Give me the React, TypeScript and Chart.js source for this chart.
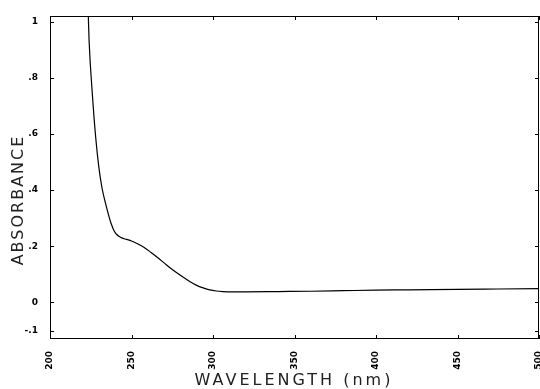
import React, { useEffect, useRef } from "react";
import { Chart, registerables } from "chart.js";

Chart.register(...registerables);

const wavelengths = [
  223.5, 224, 226, 228, 230, 232, 234, 236, 237, 238, 239, 240, 241, 242, 243, 244, 246, 248, 250, 254,
  258, 262, 266, 270, 274, 278, 282, 286, 290, 294, 298, 302, 306, 312, 320, 340, 360, 380, 400, 420,
  450, 475, 500,
];
const absorbance = [
  1.02, 0.93, 0.74, 0.59, 0.48, 0.405, 0.355, 0.31, 0.29, 0.273, 0.259, 0.249, 0.242, 0.237, 0.233,
  0.23, 0.226, 0.223, 0.219, 0.208, 0.195, 0.178, 0.16, 0.141, 0.122, 0.105, 0.089, 0.074, 0.061,
  0.052, 0.045, 0.041, 0.039, 0.038, 0.038, 0.039, 0.04, 0.042, 0.044, 0.045, 0.047, 0.048, 0.049,
];
const yTicks = [-0.1, 0, 0.2, 0.4, 0.6, 0.8, 1];
const yTickLabels = ["-.1", "0", ".2", ".4", ".6", ".8", "1"];
const xTicks = [200, 250, 300, 350, 400, 450, 500];
const xTitle = "WAVELENGTH (nm)";
const yTitle = "ABSORBANCE";

export default function App() {
  const ref = useRef<HTMLCanvasElement | null>(null);

  useEffect(() => {
    document.body.style.margin = "0";
    const canvas = ref.current;
    if (!canvas) return;

    const framePlugin = {
      id: "frame",
      afterDraw(chart: any) {
        const { ctx, chartArea } = chart;
        const xs = chart.scales.x;
        const ys = chart.scales.y;
        ctx.save();
        ctx.strokeStyle = "#000";
        ctx.lineWidth = 1;
        ctx.strokeRect(chartArea.left + 0.5, chartArea.top + 0.5, chartArea.right - chartArea.left - 1, chartArea.bottom - chartArea.top - 1);
        const len = 4;
        ctx.beginPath();
        xTicks.forEach((v) => {
          const px = Math.round(xs.getPixelForValue(v)) + 0.5;
          ctx.moveTo(px, chartArea.bottom);
          ctx.lineTo(px, chartArea.bottom - len);
          ctx.moveTo(px, chartArea.top);
          ctx.lineTo(px, chartArea.top + len);
        });
        yTicks.forEach((v) => {
          const py = Math.round(ys.getPixelForValue(v)) + 0.5;
          ctx.moveTo(chartArea.left, py);
          ctx.lineTo(chartArea.left + len, py);
          ctx.moveTo(chartArea.right, py);
          ctx.lineTo(chartArea.right - len, py);
        });
        ctx.stroke();

        ctx.fillStyle = "#222";
        ctx.font = '16px "DejaVu Sans"';
        (ctx as any).letterSpacing = "3px";
        ctx.textAlign = "center";
        ctx.textBaseline = "middle";
        ctx.fillText(xTitle, 294, 381);
        (ctx as any).letterSpacing = "2px";
        ctx.translate(19, 200);
        ctx.rotate(-Math.PI / 2);
        ctx.fillText(yTitle, 0, 0);
        ctx.restore();
      },
    };

    const chart = new Chart(canvas, {
      type: "scatter",
      data: {
        datasets: [
          {
            data: wavelengths.map((w, i) => ({ x: w, y: absorbance[i] })),
            showLine: true,
            borderColor: "#000",
            borderWidth: 1.2,
            pointRadius: 0,
            cubicInterpolationMode: "monotone",
            fill: false,
          },
        ],
      },
      options: {
        animation: false,
        responsive: false,
        maintainAspectRatio: false,
        layout: { padding: { top: 16, right: 1, left: 0, bottom: 0 } },
        plugins: { legend: { display: false }, tooltip: { enabled: false } },
        scales: {
          x: {
            type: "linear",
            min: 200,
            max: 500,
            afterBuildTicks: (scale: any) => {
              scale.ticks = xTicks.map((v) => ({ value: v }));
            },
            afterFit: (scale: any) => {
              scale.height = 50;
              scale.paddingLeft = 0;
              scale.paddingRight = 0;
            },
            grid: { display: false },
            border: { display: false },
            ticks: {
              color: "#000",
              font: { family: "DejaVu Sans", size: 9, weight: "bold" },
              minRotation: 90,
              maxRotation: 90,
              padding: 4,
              autoSkip: false,
              callback: (v: any) => String(v),
            },
          },
          y: {
            type: "linear",
            min: -0.13,
            max: 1.02,
            afterBuildTicks: (scale: any) => {
              scale.ticks = yTicks.map((v) => ({ value: v }));
            },
            afterFit: (scale: any) => {
              scale.width = 50;
              scale.paddingTop = 0;
              scale.paddingBottom = 0;
            },
            grid: { display: false },
            border: { display: false },
            ticks: {
              color: "#000",
              font: { family: "DejaVu Sans", size: 9, weight: "bold" },
              padding: 4,
              autoSkip: false,
              callback: (v: any) => {
                const i = yTicks.findIndex((t) => Math.abs(t - v) < 1e-6);
                return i >= 0 ? yTickLabels[i] : "";
              },
            },
          },
        },
      },
      plugins: [framePlugin],
    });

    return () => chart.destroy();
  }, []);

  return <canvas ref={ref} width={540} height={389} style={{ display: "block" }} />;
}
